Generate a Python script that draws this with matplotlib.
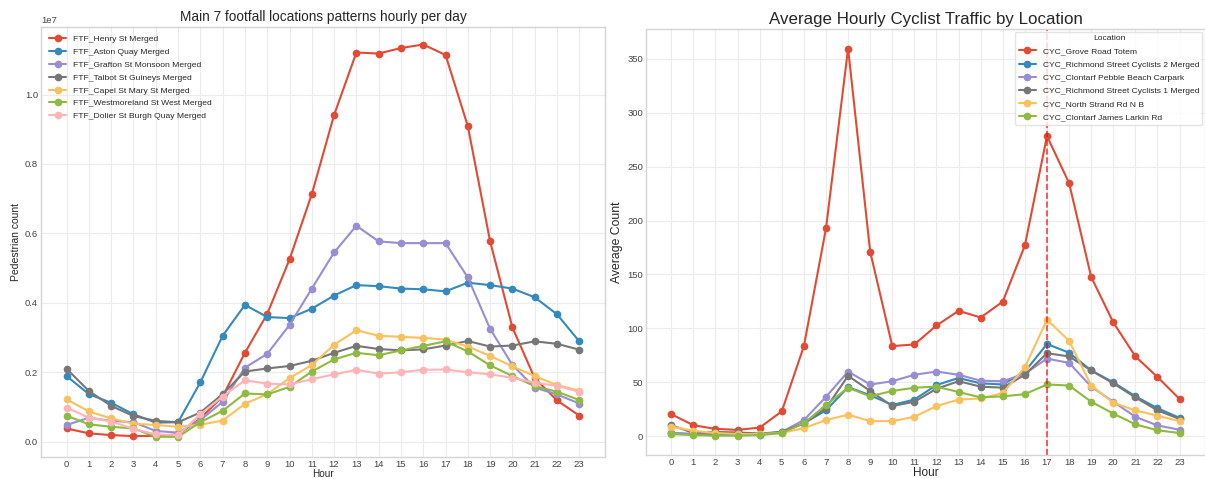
import matplotlib
matplotlib.use("Agg")
import matplotlib.pyplot as plt
import numpy as np

HOURS = list(range(24))

# Pedestrian counts per hour (units of 1e7)
FOOT_NAMES = [
    "FTF_Henry St Merged",
    "FTF_Aston Quay Merged",
    "FTF_Grafton St Monsoon Merged",
    "FTF_Talbot St Guineys Merged",
    "FTF_Capel St Mary St Merged",
    "FTF_Westmoreland St West Merged",
    "FTF_Dolier St Burgh Quay Merged",
]
henry = [0.038, 0.024, 0.019, 0.016, 0.017, 0.021, 0.067, 0.130, 0.256, 0.368, 0.525, 0.713,
         0.941, 1.121, 1.118, 1.134, 1.144, 1.114, 0.909, 0.577, 0.329, 0.183, 0.119, 0.075]
aston = [0.189, 0.137, 0.112, 0.079, 0.055, 0.056, 0.171, 0.305, 0.394, 0.359, 0.356, 0.383,
         0.421, 0.451, 0.448, 0.441, 0.439, 0.433, 0.458, 0.451, 0.441, 0.416, 0.367, 0.289]
grafton = [0.048, 0.069, 0.060, 0.056, 0.031, 0.026, 0.062, 0.115, 0.213, 0.253, 0.336, 0.441,
           0.545, 0.622, 0.577, 0.572, 0.572, 0.572, 0.473, 0.325, 0.221, 0.156, 0.136, 0.110]
talbot = [0.210, 0.146, 0.103, 0.074, 0.060, 0.056, 0.084, 0.137, 0.202, 0.211, 0.218, 0.233,
          0.256, 0.276, 0.267, 0.263, 0.266, 0.277, 0.290, 0.274, 0.277, 0.289, 0.282, 0.265]
capel = [0.122, 0.087, 0.067, 0.052, 0.048, 0.043, 0.049, 0.061, 0.109, 0.137, 0.183, 0.221,
         0.279, 0.321, 0.305, 0.302, 0.299, 0.294, 0.274, 0.247, 0.217, 0.189, 0.163, 0.147]
westmoreland = [0.075, 0.050, 0.043, 0.038, 0.014, 0.014, 0.056, 0.089, 0.139, 0.136, 0.158, 0.202,
                0.237, 0.256, 0.249, 0.263, 0.276, 0.289, 0.260, 0.220, 0.189, 0.160, 0.144, 0.120]
dolier = [0.098, 0.069, 0.058, 0.037, 0.021, 0.019, 0.079, 0.130, 0.177, 0.167, 0.165, 0.180,
          0.194, 0.207, 0.196, 0.200, 0.207, 0.208, 0.200, 0.194, 0.184, 0.170, 0.161, 0.144]
FOOT_VALUES = [henry, aston, grafton, talbot, capel, westmoreland, dolier]

# Average cyclist counts per hour
CYC_NAMES = [
    "CYC_Grove Road Totem",
    "CYC_Richmond Street Cyclists 2 Merged",
    "CYC_Clontarf Pebble Beach Carpark",
    "CYC_Richmond Street Cyclists 1 Merged",
    "CYC_North Strand Rd N B",
    "CYC_Clontarf James Larkin Rd",
]
grove = [20.4, 10.2, 6.8, 5.9, 8.0, 23.1, 83.6, 192.7, 359.5, 171.1, 83.6, 85.1,
         102.7, 116.3, 110.1, 124.9, 177.0, 278.4, 234.7, 147.7, 105.5, 74.0, 54.9, 34.5]
richmond2 = [3.0, 2.0, 2.0, 1.5, 1.5, 4.0, 12.0, 24.0, 45.5, 38.0, 29.0, 34.0,
             47.5, 54.0, 49.0, 48.0, 60.0, 85.5, 77.5, 61.0, 50.0, 37.0, 26.0, 17.0]
pebble = [3.0, 2.0, 3.0, 3.0, 2.0, 4.0, 15.0, 36.5, 60.0, 48.0, 51.0, 57.0,
          60.0, 57.0, 51.5, 51.0, 58.0, 72.0, 68.0, 46.0, 32.0, 18.0, 10.0, 6.0]
richmond1 = [10.2, 3.0, 4.0, 3.5, 2.5, 4.0, 12.0, 26.0, 56.0, 42.0, 28.0, 32.0,
             44.0, 51.0, 46.0, 45.0, 57.0, 77.0, 74.0, 61.0, 49.0, 36.0, 24.0, 16.0]
north_strand = [9.0, 5.0, 3.0, 2.0, 2.0, 3.0, 7.5, 15.0, 20.0, 14.0, 14.0, 18.0,
                28.0, 34.0, 35.0, 40.0, 64.0, 108.0, 88.5, 47.0, 31.0, 24.0, 19.0, 14.0]
larkin = [2.0, 1.0, 0.5, 0.5, 1.0, 3.0, 12.0, 29.0, 45.0, 37.0, 42.0, 45.0,
          46.0, 41.0, 36.0, 37.0, 39.0, 48.0, 47.0, 32.0, 21.0, 11.0, 5.5, 3.0]
CYC_VALUES = [grove, richmond2, pebble, richmond1, north_strand, larkin]

PEAK_HOUR = 17

COLORS = ["#E24A33", "#348ABD", "#988ED5", "#777777", "#FBC15E", "#8EBA42", "#FFB5B8"]

plt.style.use("seaborn-v0_8-whitegrid")
plt.rcParams["font.family"] = ["Liberation Sans Narrow", "Liberation Sans", "DejaVu Sans"]
plt.rcParams["grid.color"] = "#ececec"
plt.rcParams["axes.edgecolor"] = "#d4d4d4"
plt.rcParams["xtick.color"] = "#444444"
plt.rcParams["ytick.color"] = "#444444"

fig = plt.figure(figsize=(12.05, 4.79), dpi=100)
ax1 = fig.add_axes([0.034, 0.046, 0.468, 0.898])
ax2 = fig.add_axes([0.536, 0.050, 0.464, 0.889])

# left: footfall
for name, vals, col in zip(FOOT_NAMES, FOOT_VALUES, COLORS):
    ax1.plot(HOURS, np.array(vals) * 1e7, marker="o", color=col, linewidth=1.5,
             markersize=4.5, label=name)
ax1.set_xticks(HOURS)
ax1.set_ylim(-0.044e7, 1.195e7)
ax1.tick_params(labelsize=6.8, pad=2)
ax1.yaxis.get_offset_text().set_fontsize(6.8)
ax1.set_title("Main 7 footfall locations patterns hourly per day", fontsize=9.8, pad=4)
ax1.set_xlabel("Hour", fontsize=7.2, labelpad=0)
ax1.set_ylabel("Pedestrian count", fontsize=7.5, labelpad=3)
ax1.legend(loc="upper left", fontsize=6.1, frameon=False, labelspacing=0.58,
           borderaxespad=0.6)

# right: cyclists
for name, vals, col in zip(CYC_NAMES, CYC_VALUES, COLORS):
    ax2.plot(HOURS, vals, marker="o", color=col, linewidth=1.5, markersize=4.5, label=name)
ax2.axvline(PEAK_HOUR, color="red", linestyle="--", linewidth=1.2, alpha=0.75)
ax2.set_xticks(HOURS)
ax2.tick_params(labelsize=6.8, pad=2)
ax2.set_title("Average Hourly Cyclist Traffic by Location", fontsize=12.2, pad=4)
ax2.set_xlabel("Hour", fontsize=8.5, labelpad=0)
ax2.set_ylabel("Average Count", fontsize=8.8, labelpad=3)
leg = ax2.legend(title="Location", loc="upper right", fontsize=6.1, title_fontsize=6.1,
                 frameon=True, labelspacing=0.62, borderaxespad=0.3)
leg.get_frame().set_edgecolor("#dddddd")
leg.get_frame().set_facecolor("white")

fig.savefig("out.png", dpi=100)
